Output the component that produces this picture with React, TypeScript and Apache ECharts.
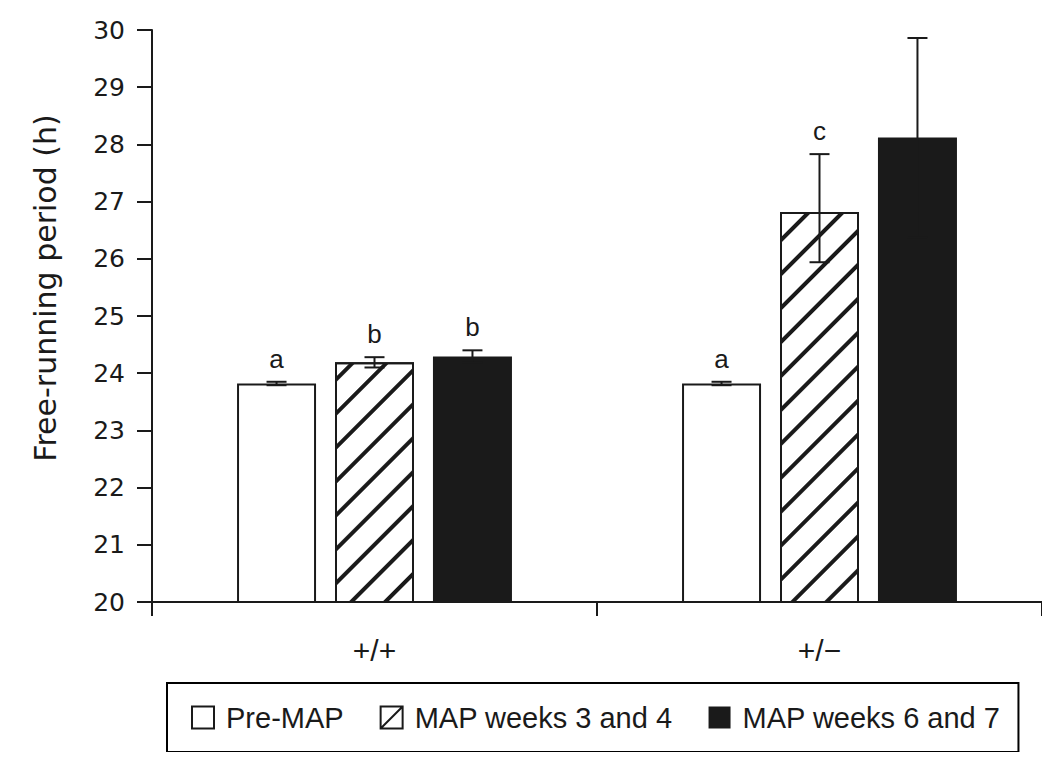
import React, { useEffect, useRef } from "react";
import * as echarts from "echarts";

const categories = ["+/+", "+/\u2212"];
const seriesNames = ["Pre-MAP", "MAP weeks 3 and 4", "MAP weeks 6 and 7"];

const preMap = [23.82, 23.82];
const weeks34 = [24.19, 26.82];
const weeks67 = [24.29, 28.12];

const preMapLow = [23.79, 23.79];
const preMapHigh = [23.85, 23.85];
const weeks34Low = [24.1, 25.94];
const weeks34High = [24.28, 27.83];
const weeks67Low = [24.18, 26.38];
const weeks67High = [24.4, 29.86];

const preMapLetters = ["a", "a"];
const weeks34Letters = ["b", "c"];
const weeks67Letters = ["b", ""];

const yTicks = { min: 20, max: 30, interval: 1 };

const BAR_W = 79;
const BAR_GAP = 0.24;
const STEP = BAR_W * (1 + BAR_GAP);
const INK = "#1a1a1a";

export default function App() {
  const ref = useRef<HTMLDivElement>(null);

  useEffect(() => {
    if (!ref.current) return;
    const chart = echarts.init(ref.current, undefined, { renderer: "svg" });

    const lows = [preMapLow, weeks34Low, weeks67Low];
    const highs = [preMapHigh, weeks34High, weeks67High];
    const letters = [preMapLetters, weeks34Letters, weeks67Letters];
    const errData: any[] = [];
    const errLetters: string[] = [];
    for (let s = 0; s < 3; s++) {
      for (let c = 0; c < categories.length; c++) {
        errData.push([c, s, lows[s][c], highs[s][c]]);
        errLetters.push(letters[s][c]);
      }
    }

    const hatchDecal = {
      symbol: "rect",
      symbolSize: 1,
      color: INK,
      dashArrayX: [1, 0],
      dashArrayY: [4, 20],
      rotation: -Math.PI / 4,
    };

    const option: any = {
      animation: false,
      grid: { left: 152, right: 8, top: 30, bottom: 158 },
      graphic: [
        {
          type: "text",
          x: 45,
          y: 288,
          rotation: Math.PI / 2,
          style: {
            text: "Free-running period (h)",
            font: "30px 'DejaVu Sans'",
            fill: INK,
            align: "center",
            verticalAlign: "middle",
          },
        },
      ],
      legend: {
        left: 167,
        top: 683,
        padding: [20, 18, 20, 24],
        itemWidth: 22,
        itemHeight: 22,
        itemGap: 36,
        borderColor: "#000",
        borderWidth: 2,
        textStyle: {
          fontFamily: "Liberation Sans",
          fontSize: 29,
          color: INK,
          padding: [0, 0, 0, 7],
        },
        data: [
          {
            name: seriesNames[0],
            icon: "rect",
            itemStyle: { color: "#fff", borderColor: INK, borderWidth: 2 },
          },
          {
            name: seriesNames[1],
            icon: "path://M0,0L22,0L22,22L0,22ZM0,22L22,0",
            itemStyle: { color: "#fff", borderColor: INK, borderWidth: 2, decal: "none" },
          },
          {
            name: seriesNames[2],
            icon: "rect",
            itemStyle: { color: INK, borderWidth: 0 },
          },
        ],
      },
      xAxis: {
        type: "category",
        data: categories,
        axisLine: { lineStyle: { color: INK, width: 2 } },
        axisTick: { show: true, length: 14, lineStyle: { color: INK, width: 2 } },
        axisLabel: {
          color: INK,
          fontFamily: "Liberation Sans",
          fontSize: 30,
          margin: 33,
        },
      },
      yAxis: {
        type: "value",
        min: yTicks.min,
        max: yTicks.max,
        interval: yTicks.interval,
        splitLine: { show: false },
        axisLine: { show: true, lineStyle: { color: INK, width: 2 } },
        axisTick: { show: true, length: 15, lineStyle: { color: INK, width: 2 } },
        axisLabel: {
          color: INK,
          fontFamily: "DejaVu Sans",
          fontSize: 25,
          margin: 27,
        },
      },
      series: [
        {
          name: seriesNames[0],
          type: "bar",
          data: preMap,
          barWidth: BAR_W,
          barGap: BAR_GAP * 100 + "%",
          itemStyle: { color: "#fff", borderColor: INK, borderWidth: 2 },
        },
        {
          name: seriesNames[1],
          type: "bar",
          data: weeks34,
          barWidth: BAR_W,
          barGap: BAR_GAP * 100 + "%",
          itemStyle: { color: "#fff", borderColor: INK, borderWidth: 2, decal: hatchDecal },
        },
        {
          name: seriesNames[2],
          type: "bar",
          data: weeks67,
          barWidth: BAR_W,
          barGap: BAR_GAP * 100 + "%",
          itemStyle: { color: INK, borderWidth: 0 },
        },
        {
          name: "errors",
          type: "custom",
          z: 10,
          silent: true,
          data: errData,
          encode: { x: 0, y: 3 },
          renderItem: (params: any, api: any) => {
            const c = api.value(0);
            const s = api.value(1);
            const lo = api.value(2);
            const hi = api.value(3);
            const pLo = api.coord([c, lo]);
            const pHi = api.coord([c, hi]);
            const cx = pLo[0] + (s - 1) * STEP;
            const half = 10;
            const st = { stroke: INK, lineWidth: 2 };
            const children: any[] = [
              { type: "line", shape: { x1: cx, y1: pLo[1], x2: cx, y2: pHi[1] }, style: st },
              { type: "line", shape: { x1: cx - half, y1: pHi[1], x2: cx + half, y2: pHi[1] }, style: st },
              { type: "line", shape: { x1: cx - half, y1: pLo[1], x2: cx + half, y2: pLo[1] }, style: st },
            ];
            const letter = errLetters[params.dataIndex];
            if (letter) {
              children.push({
                type: "text",
                x: cx,
                y: pHi[1] - 10,
                style: {
                  text: letter,
                  font: "26px 'Liberation Sans'",
                  fill: INK,
                  align: "center",
                  verticalAlign: "bottom",
                },
              });
            }
            return { type: "group", children };
          },
        },
      ],
    };

    chart.setOption(option);
    return () => chart.dispose();
  }, []);

  return <div ref={ref} style={{ width: 1050, height: 760, margin: -8 }} />;
}
